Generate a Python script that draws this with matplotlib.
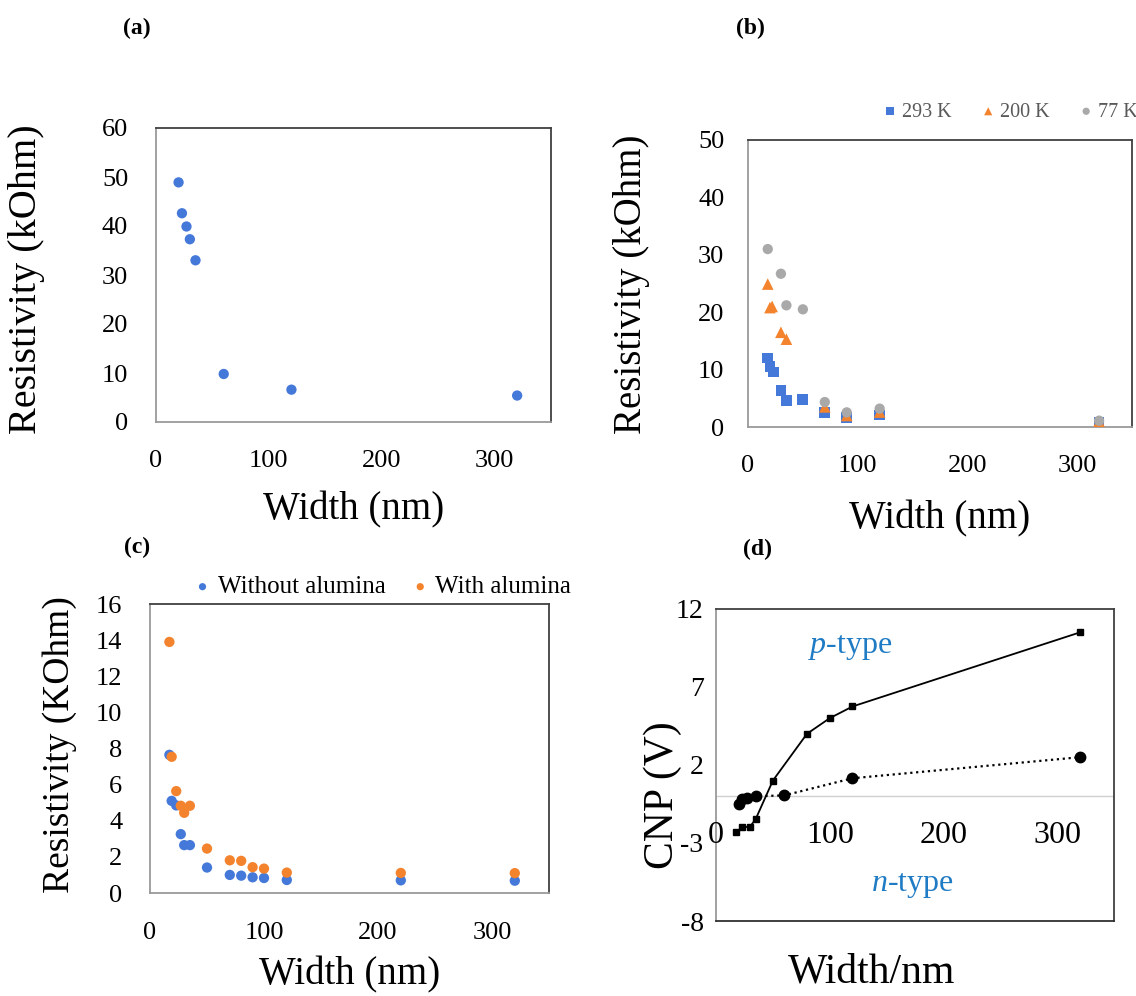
import matplotlib.pyplot as plt

# fonts: serif look like the original figure
plt.rcParams['font.family'] = ['Liberation Serif', 'DejaVu Serif']
plt.rcParams['mathtext.fontset'] = 'custom'
plt.rcParams['mathtext.rm'] = 'Liberation Serif'
plt.rcParams['mathtext.it'] = 'Liberation Serif:italic'
plt.rcParams['axes.unicode_minus'] = False  # plain hyphen, like the original

BLUE = '#4479D9'
ORANGE = '#F4832E'
GRAY = '#A9A9A9'
TYPE_BLUE = '#1F7BC4'

# (a) resistivity vs width
width_a = [20, 23, 27, 30, 35, 60, 120, 320]
res_a = [48.9, 42.6, 39.9, 37.3, 33.0, 9.8, 6.6, 5.4]

# (b) resistivity vs width at three temperatures
width_b_293 = [18, 20, 23, 30, 35, 50, 70, 90, 120, 320]
res_b_293 = [12.0, 10.6, 9.6, 6.3, 4.6, 4.75, 2.5, 1.7, 2.1, 0.8]
width_b_200 = [18, 20, 22, 30, 35, 70, 90, 120, 320]
res_b_200 = [24.9, 20.8, 21.0, 16.5, 15.3, 3.5, 2.0, 2.6, 1.0]
width_b_77 = [18, 30, 35, 50, 70, 90, 120, 320]
res_b_77 = [31.0, 26.7, 21.2, 20.5, 4.35, 2.55, 3.2, 1.1]
labels_b = ['293 K', '200 K', '77 K']

# (c) with / without alumina
width_c = [17, 19, 23, 27, 30, 35, 50, 70, 80, 90, 100, 120, 220, 320]
res_c_without = [7.65, 5.1, 4.85, 3.26, 2.65, 2.65, 1.41, 1.0, 0.96, 0.87, 0.83, 0.72, 0.70, 0.68]
res_c_with = [13.9, 7.54, 5.64, 4.83, 4.44, 4.83, 2.46, 1.81, 1.78, 1.43, 1.35, 1.13, 1.11, 1.1]
labels_c = ['Without alumina', 'With alumina']

# (d) charge neutrality point vs width
width_d_sq = [18, 23, 30, 35, 50, 80, 100, 120, 320]
cnp_d_sq = [-2.3, -2.0, -1.95, -1.45, 1.0, 4.0, 5.0, 5.75, 10.5]
width_d_ci = [20, 23, 27, 35, 60, 120, 320]
cnp_d_ci = [-0.5, -0.2, -0.09, 0.0, 0.05, 1.15, 2.5]
xticks_d = [0, 100, 200, 300]
yticks_d = [-8, -3, 2, 7, 12]

W, H = 1136, 996


def px_axes(left, top, right, bottom):
    # axes box given in pixels of the final image
    return fig.add_axes([left / W, 1 - bottom / H, (right - left) / W, (bottom - top) / H])


def style_box(ax, ypad, xpad=20, size=19):
    for side in ['top', 'right']:
        ax.spines[side].set_color('#404040')
    for side in ['left', 'bottom']:
        ax.spines[side].set_color('#9a9a9a')
    for s in ax.spines.values():
        s.set_linewidth(1.3)
    ax.tick_params(length=0, labelsize=size)
    ax.tick_params(axis='y', pad=ypad)
    ax.tick_params(axis='x', pad=xpad)


fig = plt.figure(figsize=(W / 100, H / 100), dpi=100)

# ---- (a)
ax_a = px_axes(156, 128, 551, 422)
ax_a.scatter(width_a, res_a, s=55, color=BLUE, edgecolors='none', zorder=3)
ax_a.set_xlim(0, 350)
ax_a.set_ylim(0, 60)
ax_a.set_xticks([0, 100, 200, 300])
ax_a.set_yticks(range(0, 61, 10))
style_box(ax_a, ypad=20)
ax_a.set_xlabel('Width (nm)', fontsize=28, labelpad=14)
fig.text(27 / W, 1 - 279 / H, 'Resistivity (kOhm)', rotation=90, fontsize=29,
         ha='center', va='center')
fig.text(137 / W, 1 - 28 / H, '(a)', fontsize=17, fontweight='bold', ha='center', va='center')

# ---- (b)
ax_b = px_axes(748, 140, 1132, 427)
h1 = ax_b.scatter(width_b_293, res_b_293, s=60, marker='s', color=BLUE, edgecolors='none', zorder=3)
h2 = ax_b.scatter(width_b_200, res_b_200, s=70, marker='^', color=ORANGE, edgecolors='none', zorder=4)
h3 = ax_b.scatter(width_b_77, res_b_77, s=55, marker='o', color=GRAY, edgecolors='none', zorder=5)
ax_b.set_xlim(0, 350)
ax_b.set_ylim(0, 50)
ax_b.set_xticks([0, 100, 200, 300])
ax_b.set_yticks(range(0, 51, 10))
style_box(ax_b, ypad=17)
ax_b.set_xlabel('Width (nm)', fontsize=28, labelpad=17)
fig.text(632 / W, 1 - 284 / H, 'Resistivity (kOhm)', rotation=90, fontsize=28,
         ha='center', va='center')
fig.text(750 / W, 1 - 28 / H, '(b)', fontsize=17, fontweight='bold', ha='center', va='center')
fig.legend([h1, h2, h3], labels_b, ncol=3, frameon=False, loc='center right',
           bbox_to_anchor=(1138 / W, 1 - 112 / H), fontsize=14.5, labelcolor='#595959',
           handletextpad=0.1, columnspacing=1.3, handlelength=1.0, markerscale=0.7,
           borderpad=0, borderaxespad=0)

# ---- (c)
ax_c = px_axes(150, 604, 549, 893)
g1 = ax_c.scatter(width_c, res_c_without, s=55, color=BLUE, edgecolors='none', zorder=3)
g2 = ax_c.scatter(width_c, res_c_with, s=55, color=ORANGE, edgecolors='none', zorder=4)
ax_c.set_xlim(0, 350)
ax_c.set_ylim(0, 16)
ax_c.set_xticks([0, 100, 200, 300])
ax_c.set_yticks(range(0, 17, 2))
style_box(ax_c, ypad=20, xpad=21)
ax_c.set_xlabel('Width (nm)', fontsize=28, labelpad=9)
fig.text(60 / W, 1 - 745 / H, 'Resistivity (KOhm)', rotation=90, fontsize=27,
         ha='center', va='center')
fig.text(137 / W, 1 - 547 / H, '(c)', fontsize=17, fontweight='bold', ha='center', va='center')
fig.legend([g1, g2], labels_c, ncol=2, frameon=False, loc='center left',
           bbox_to_anchor=(190 / W, 1 - 587 / H), fontsize=18,
           handletextpad=0.1, columnspacing=0.9, handlelength=1.0, markerscale=0.7,
           borderpad=0, borderaxespad=0)

# ---- (d)
ax_d = px_axes(716, 609, 1114, 921)
ax_d.axhline(0, color='#d0d0d0', lw=1.0, zorder=1)
ax_d.plot(width_d_sq, cnp_d_sq, '-', color='black', lw=1.3, marker='s', ms=5, zorder=3)
ax_d.plot(width_d_ci, cnp_d_ci, ':', color='black', lw=1.6, marker='o', ms=7.5, zorder=3)
ax_d.set_xlim(0, 350)
ax_d.set_ylim(-8, 12)
ax_d.set_xticks([])
ax_d.set_yticks(yticks_d)
style_box(ax_d, ypad=9, size=20)
ax_d.spines['bottom'].set_color('#303030')
for xv in xticks_d:
    ax_d.text(xv, -2.5, str(xv), fontsize=23, ha='center', va='center')
ax_d.text(118, 9.5, '$\\it{p}$-type', fontsize=23, color=TYPE_BLUE, ha='center', va='center')
ax_d.text(173, -5.7, '$\\it{n}$-type', fontsize=23, color=TYPE_BLUE, ha='center', va='center')
fig.text(872 / W, 1 - 972 / H, 'Width/nm', fontsize=30, ha='center', va='center')
fig.text(663 / W, 1 - 795 / H, 'CNP (V)', rotation=90, fontsize=30,
         ha='center', va='center')
fig.text(757 / W, 1 - 549 / H, '(d)', fontsize=17, fontweight='bold', ha='center', va='center')

fig.savefig('out.png', dpi=100)
